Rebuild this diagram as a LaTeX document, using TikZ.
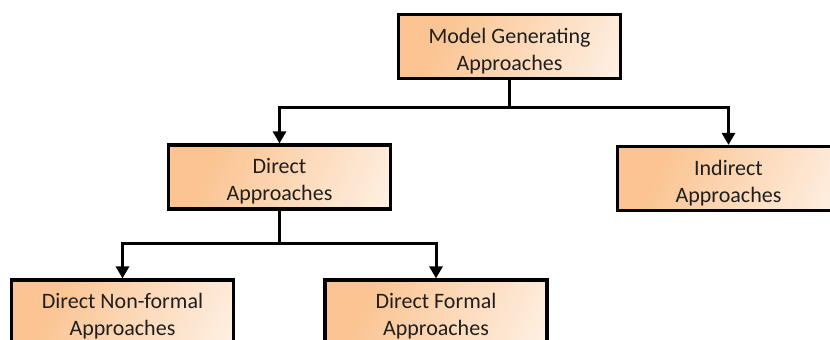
\documentclass[tikz,border=0pt]{standalone}
\usepackage{fontspec}
\setmainfont{Carlito}
\usetikzlibrary{arrows.meta}
\definecolor{boxorange}{RGB}{251,196,146}
\pgfdeclarehorizontalshading{boxfade}{100bp}{color(0bp)=(boxorange); color(30bp)=(boxorange); color(100bp)=(white)}
% taller first line, so the two text lines sit a little lower in the box
\newcommand{\firstline}{\rule{0pt}{24pt}}
\tikzset{
  approach/.style={draw=black, line width=3.2pt, shading=boxfade, shading angle=-25,
    minimum width=222pt, minimum height=64pt, inner sep=0pt, align=center,
    font=\fontsize{22}{27}\selectfont, text=black!88},
  link/.style={line width=3pt},
  arrowlink/.style={line width=3pt, -{Triangle[width=13pt,length=12pt]}}
}
\begin{document}
\begin{tikzpicture}[x=1pt,y=-1pt]
  \useasboundingbox (0,0) rectangle (830,340);
  \clip (0,0) rectangle (830,340);
  % boxes of the hierarchy
  \node[approach] (top)      at (509.5,46.5) {\firstline Model Generating\\Approaches};
  \node[approach] (direct)   at (279.5,177)  {\firstline Direct\\Approaches};
  \node[approach] (indirect) at (728.5,178.5) {\firstline Indirect\\Approaches};
  \node[approach] (nonformal) at (122.5,312) {\firstline Direct Non-formal\\Approaches};
  \node[approach] (formal)   at (436,312)    {\firstline Direct Formal\\Approaches};
  % branching points
  \coordinate (j1) at (509.5,107);
  \coordinate (j2) at (279.5,243);
  % connectors
  \draw[link] (top.south) -- (j1);
  \draw[arrowlink] (j1) -| (direct.north);
  \draw[arrowlink] (j1) -| (indirect.north);
  \draw[link] (direct.south) -- (j2);
  \draw[arrowlink] (j2) -| (nonformal.north);
  \draw[arrowlink] (j2) -| (formal.north);
\end{tikzpicture}
\end{document}
